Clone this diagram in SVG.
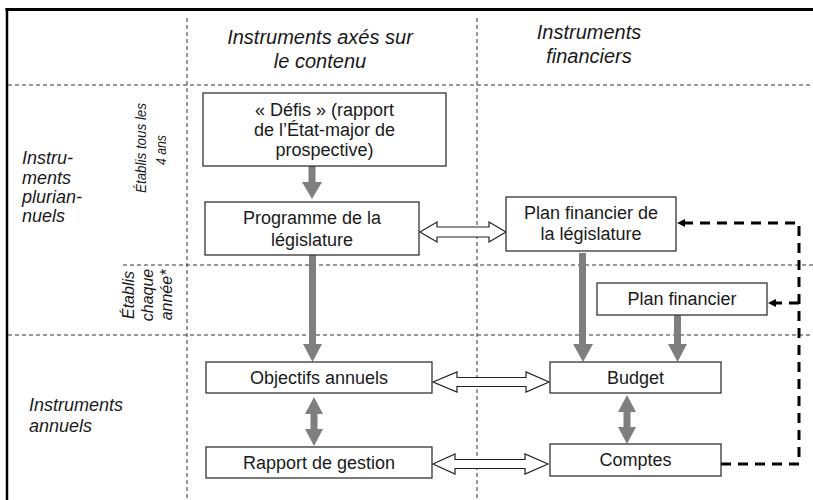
<svg xmlns="http://www.w3.org/2000/svg" width="813" height="500" viewBox="0 0 813 500">
<defs>
<style>
.t{font-family:"Liberation Sans",Arial,sans-serif;font-size:18px;fill:#1a1a1a;text-anchor:middle}
.h{font-family:"Liberation Sans",Arial,sans-serif;font-size:20px;font-style:italic;fill:#1a1a1a;text-anchor:middle}
.l{font-family:"Liberation Sans",Arial,sans-serif;font-size:18px;font-style:italic;fill:#1a1a1a}
.r{font-family:"Liberation Sans",Arial,sans-serif;font-size:16px;font-style:italic;fill:#1a1a1a;text-anchor:middle}
.r2{font-family:"Liberation Sans",Arial,sans-serif;font-size:15px;font-style:italic;fill:#1a1a1a;text-anchor:middle}
.box{fill:#fff;stroke:#333;stroke-width:1.3}
.grid{stroke:#333;stroke-width:1;stroke-dasharray:4 3;fill:none}
.g{fill:#7f7f7f}
.w{fill:#fff;stroke:#222;stroke-width:1.2;stroke-linejoin:miter}
.d{fill:none;stroke:#000;stroke-width:3;stroke-dasharray:10 7}
</style>
<marker id="ah" markerWidth="8" markerHeight="8" refX="7" refY="4" orient="auto" markerUnits="userSpaceOnUse">
<path d="M0,0 L8,4 L0,8 Z" fill="#000"/>
</marker>
</defs>
<rect width="813" height="500" fill="#fff"/>
<g id="frame">
<line x1="5.5" y1="9.5" x2="813" y2="9.5" stroke="#000" stroke-width="3"/>
<line x1="7" y1="8" x2="7" y2="500" stroke="#000" stroke-width="2.5"/>
</g>
<g id="grid">
<line class="grid" x1="187" y1="18" x2="187" y2="500"/>
<line class="grid" x1="477" y1="18" x2="477" y2="500"/>
<line class="grid" x1="8" y1="85" x2="813" y2="85"/>
<line class="grid" x1="123" y1="265" x2="813" y2="265"/>
<line class="grid" x1="8" y1="335" x2="813" y2="335"/>
</g>
<g id="headers">
<text class="h" x="320" y="44">Instruments axés sur</text>
<text class="h" x="320" y="68">le contenu</text>
<text class="h" x="589" y="39">Instruments</text>
<text class="h" x="589" y="63">financiers</text>
<text class="l" x="22" y="164">Instru-</text>
<text class="l" x="22" y="184">ments</text>
<text class="l" x="22" y="203">plurian-</text>
<text class="l" x="22" y="222">nuels</text>
<text class="l" x="29" y="411">Instruments</text>
<text class="l" x="29" y="432">annuels</text>
<text class="r2" transform="translate(146,148) rotate(-90)" textLength="90" lengthAdjust="spacingAndGlyphs">Établis tous les</text>
<text class="r2" transform="translate(166,150) rotate(-90)" textLength="30" lengthAdjust="spacingAndGlyphs">4 ans</text>
<text class="r" transform="translate(134,295) rotate(-90)">Établis</text>
<text class="r" transform="translate(153,295) rotate(-90)">chaque</text>
<text class="r" transform="translate(172,295) rotate(-90)">année*</text>
</g>
<g id="connectors">
<path class="g" d="M308.5,166 H315.5 V182 H322 L312,199 L302,182 H308.5 Z"/>
<path class="g" d="M309,255 H316 V344 H322 L312.5,362 L303,344 H309 Z"/>
<path class="g" d="M314,397 L323,414 H317.5 V429 H323 L314,446 L305,429 H310.5 V414 H305 Z"/>
<path class="g" d="M579,253 H586 V344 H593 L583,362 L573,344 H579 Z"/>
<path class="g" d="M674,315 H681 V344 H687 L677.5,362 L668,344 H674 Z"/>
<path class="g" d="M627,395 L636,412 H630.5 V427 H636 L627,444 L618,427 H623.5 V412 H618 Z"/>
<path class="w" d="M420,232 L437,222 V227 H489 V222 L506,232 L489,242 V237 H437 V242 Z"/>
<path class="w" d="M433,382 L457,372 V377.5 H526 V372 L549,382 L526,392 V386.5 H457 V392 Z"/>
<path class="w" d="M433,464 L455,454 V459.5 H525 V454 L548,464 L525,474 V468.5 H455 V474 Z"/>
<path class="d" d="M721,464 H799 V223 H678" marker-end="url(#ah)"/>
<path class="d" d="M799,303 H769" marker-end="url(#ah)"/>
</g>
<g id="defis">
<rect class="box" x="203" y="93" width="243" height="73"/>
<text class="t" x="324.5" y="116">« Défis » (rapport</text>
<text class="t" x="324.5" y="136">de l’État-major de</text>
<text class="t" x="324.5" y="156">prospective)</text>
</g>
<g id="programme">
<rect class="box" x="205" y="202" width="214" height="53"/>
<text class="t" x="312" y="224">Programme de la</text>
<text class="t" x="312" y="246">législature</text>
</g>
<g id="plan-leg">
<rect class="box" x="506" y="197" width="170" height="54"/>
<text class="t" x="591" y="219">Plan financier de</text>
<text class="t" x="591" y="240">la législature</text>
</g>
<g id="plan">
<rect class="box" x="597" y="283" width="170" height="32"/>
<text class="t" x="682" y="305">Plan financier</text>
</g>
<g id="objectifs">
<rect class="box" x="206" y="362" width="226" height="31"/>
<text class="t" x="319" y="384">Objectifs annuels</text>
</g>
<g id="rapport">
<rect class="box" x="206" y="447" width="226" height="31"/>
<text class="t" x="319" y="469">Rapport de gestion</text>
</g>
<g id="budget">
<rect class="box" x="550" y="362" width="171" height="31"/>
<text class="t" x="635.5" y="384">Budget</text>
</g>
<g id="comptes">
<rect class="box" x="550" y="444" width="171" height="32"/>
<text class="t" x="635.5" y="466">Comptes</text>
</g>
</svg>
